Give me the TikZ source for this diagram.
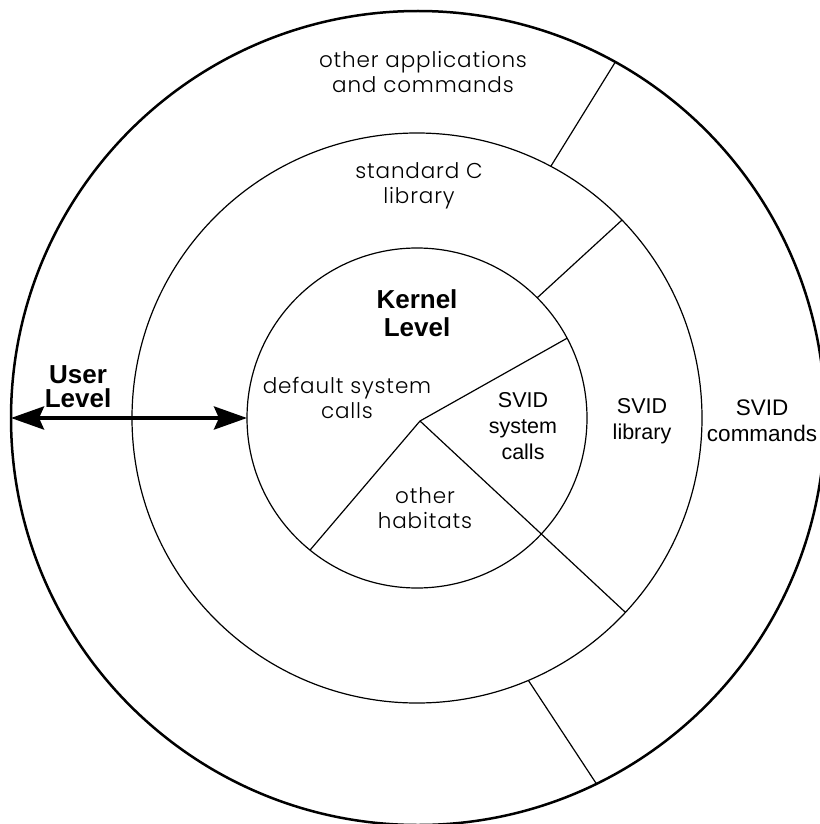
\documentclass[tikz,border=0pt]{standalone}
\usepackage{fontspec}
\setmainfont{Liberation Sans}
\newfontfamily\gothicfont[LetterSpace=4]{Poppins Light}
\usetikzlibrary{arrows.meta}
\usetikzlibrary{positioning}
\tikzset{
  every picture/.style={font={\fontsize{21.5}{26}\selectfont}, >=Stealth},
  ring/.style={draw, circle, inner sep=0pt, outer sep=0pt}}

\begin{document}
\begin{tikzpicture}[x=1pt, y=-1pt, line width=1.2pt,
    gothic/.style={font={\gothicfont\fontsize{21.5}{25.6}\selectfont}, align=center},
    svid/.style={align=center},
    level/.style={font={\bfseries\fontsize{26}{28.5}\selectfont}, align=center}]

    \useasboundingbox (0,0) rectangle (819,824);

    % the three levels
    \begin{scope}
      \node[ring, minimum size=814pt, line width=2.5pt] (user) at (418,418) {};
      \node[ring, minimum size=570pt] (clib) at (417,418) {};
      \node[ring, minimum size=340pt] (kernel) at (417,418) {};
    \end{scope}

    \coordinate (hub) at (420,421);

    \draw (hub) -- (kernel.28.5);
    \draw (hub) -- (kernel.231);
    \draw (hub) -- (clib.-43.4);
    \draw (kernel.45) -- (clib.44.5);
    \draw (clib.62.9) -- (user.61.4);
    \draw (clib.-67.5) -- (user.-64.4);

    \draw[<->, line width=4pt, >={Stealth[length=33pt, width=23pt, inset=5pt]}]
      (user.west) -- (kernel.west);

    % labels
    \node[gothic] (apps) at (423,72) {other applications\\and commands};
    \node[gothic] (stdc) at (419,186) {standard C\\library};
    \node[level] (klev) at (417,313) {Kernel\\Level};
    \node[level, font={\bfseries\fontsize{26}{24}\selectfont}] (ulev) at (78,387) {User\\Level};
    \node[gothic] (dflt) at (347,398) {default system\\calls};
    \node[svid] (svcall) at (523,426) {SVID\\system\\calls};
    \node[svid] (svlib) at (642,421) {SVID\\library};
    \node[svid, font={\fontsize{22.5}{26}\selectfont}] (svcmd) at (762,421) {SVID\\commands};
    \node[gothic] (habit) at (425,508) {other\\habitats};
  \end{tikzpicture}
\end{document}
